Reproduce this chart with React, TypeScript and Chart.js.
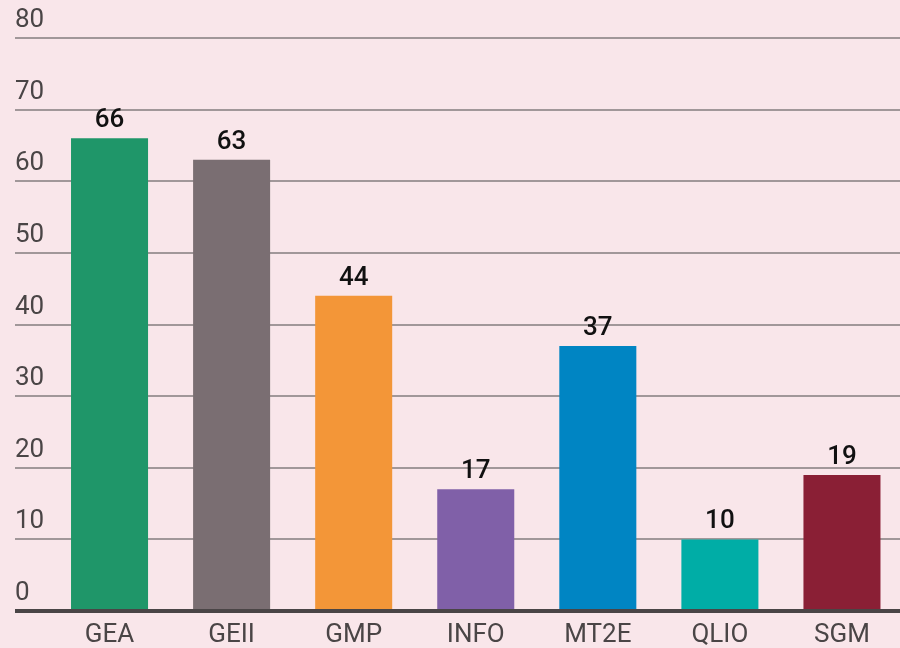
import React, { useEffect, useRef } from "react";
import { Chart, registerables } from "chart.js";

Chart.register(...registerables);

const categories = ["GEA", "GEII", "GMP", "INFO", "MT2E", "QLIO", "SGM"];
const values = [66, 63, 44, 17, 37, 10, 19];
const barColors = ["#1f9669", "#7a6e72", "#f39638", "#8060a8", "#0085c3", "#00ada6", "#8a1f35"];
const yTicks = [0, 10, 20, 30, 40, 50, 60, 70, 80];

const valueLabels = {
  id: "valueLabels",
  afterDatasetsDraw(chart: any) {
    const ctx = chart.ctx;
    const meta = chart.getDatasetMeta(0);
    ctx.save();
    ctx.font = "500 26px Roboto";
    ctx.fillStyle = "#111111";
    ctx.textAlign = "center";
    ctx.textBaseline = "alphabetic";
    meta.data.forEach((el: any, i: number) => {
      ctx.fillText(String(values[i]), el.x, el.y - 11);
    });
    ctx.restore();
  },
};

export default function App() {
  const ref = useRef<HTMLCanvasElement>(null);
  useEffect(() => {
    document.body.style.margin = "0";
    document.body.style.background = "#f9e6ea";
    const chart = new Chart(ref.current!, {
      type: "bar",
      data: {
        labels: categories,
        datasets: [
          {
            data: values,
            backgroundColor: barColors,
            borderWidth: 0,
            categoryPercentage: 1,
            barPercentage: 0.631,
          },
        ],
      },
      plugins: [valueLabels],
      options: {
        animation: false,
        responsive: false,
        maintainAspectRatio: false,
        events: [],
        layout: { padding: { left: 15, right: 0, top: 38, bottom: 0 } },
        plugins: { legend: { display: false }, tooltip: { enabled: false } },
        scales: {
          x: {
            z: 1,
            afterFit: (scale: any) => {
              scale.height = 37;
            },
            grid: { display: false, drawTicks: false },
            border: { display: true, color: "#4a4546", width: 4 },
            ticks: {
              color: "#4a4546",
              font: { family: "Roboto", size: 26, weight: "400" },
              padding: 9,
            },
          },
          y: {
            min: 0,
            max: 80,
            afterBuildTicks: (scale: any) => {
              scale.ticks = yTicks.map((v) => ({ value: v }));
            },
            afterFit: (scale: any) => {
              scale.width = 33.5;
            },
            grid: {
              color: (c: any) => (c.tick && c.tick.value === 0 ? "#4a4546" : "#a19799"),
              lineWidth: (c: any) => (c.tick && c.tick.value === 0 ? 4 : 2),
              drawTicks: true,
              tickLength: 33.5,
            },
            border: { display: false },
            ticks: {
              color: "#4a4546",
              crossAlign: "far",
              labelOffset: -17.5,
              padding: 0,
              font: { family: "Roboto", size: 26, weight: "400" },
            },
          },
        },
      },
    } as any);
    return () => chart.destroy();
  }, []);
  return (
    <div style={{ position: "fixed", left: 0, top: 0, width: 900, height: 648, overflow: "hidden", background: "#f9e6ea" }}>
      <canvas ref={ref} width={903} height={648} style={{ width: 903, height: 648, display: "block" }} />
    </div>
  );
}
